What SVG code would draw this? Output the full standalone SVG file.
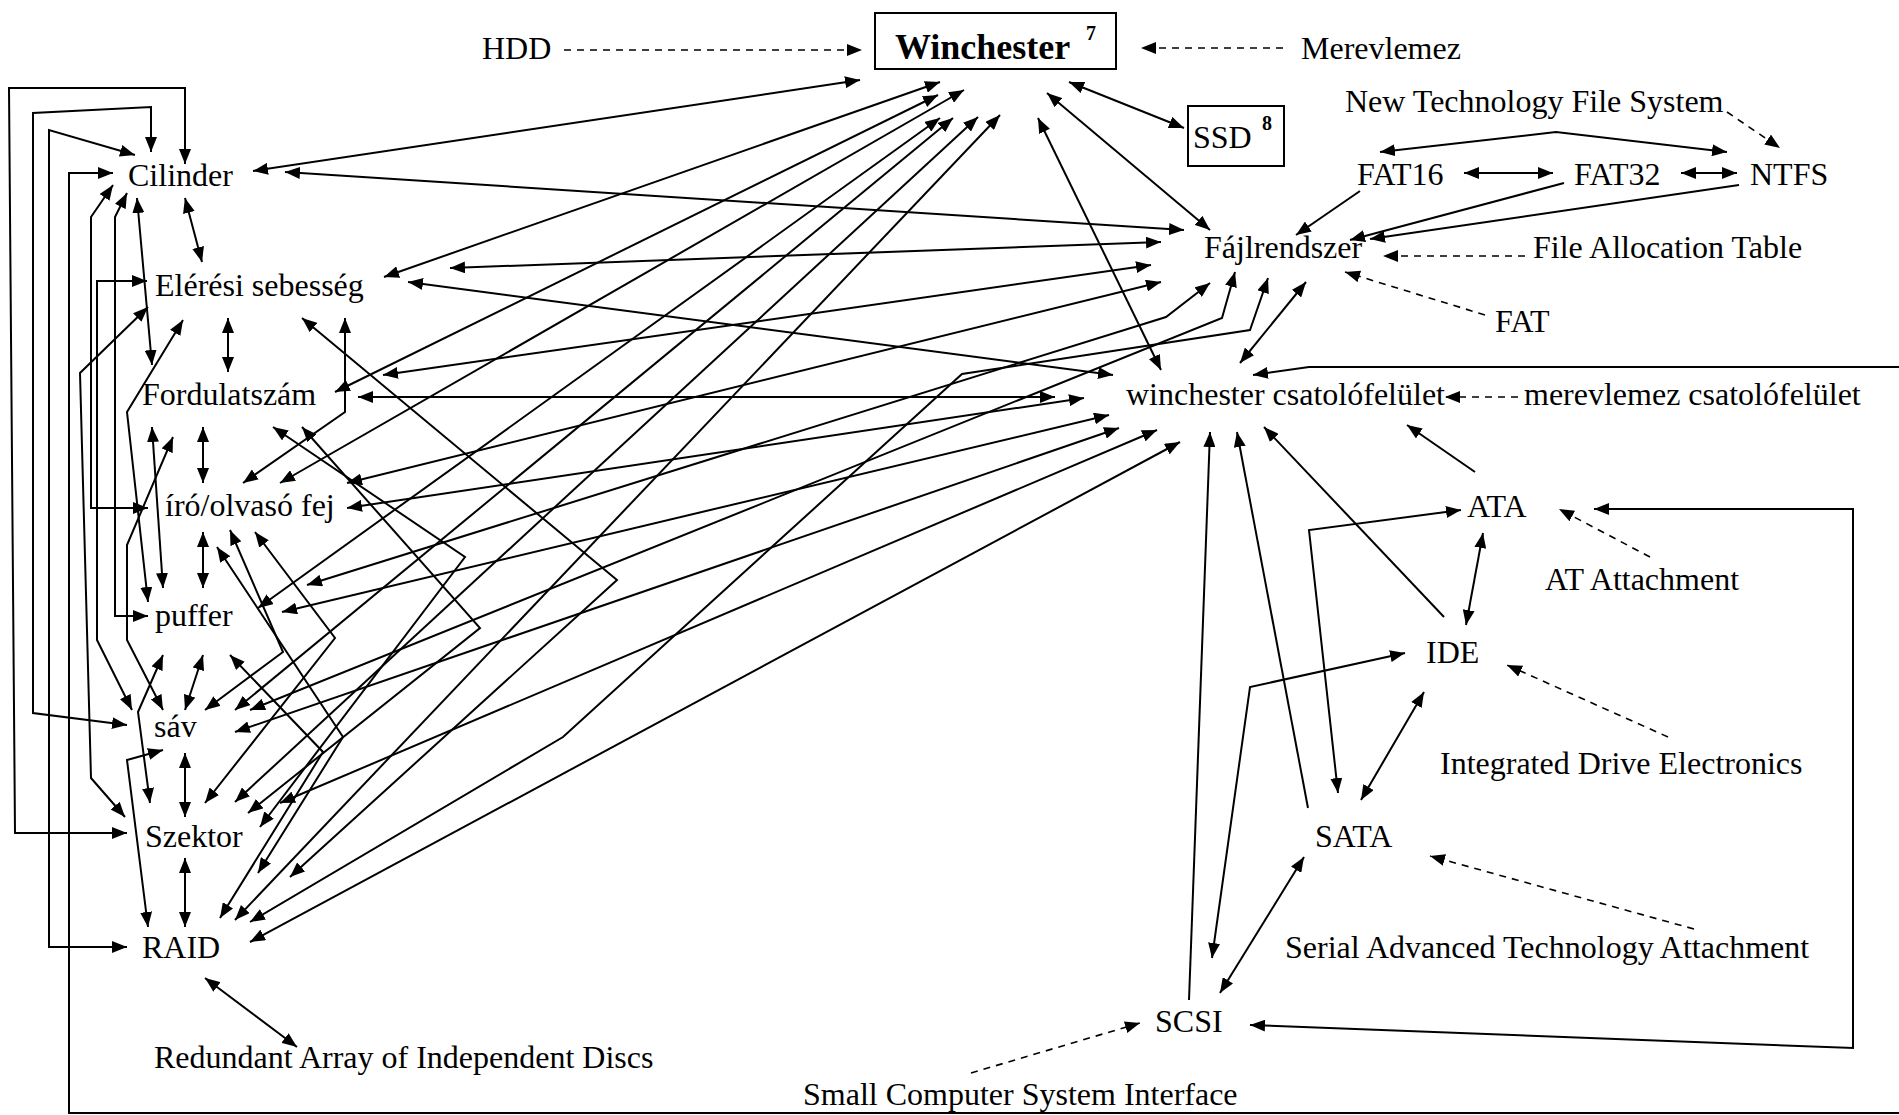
<svg xmlns="http://www.w3.org/2000/svg" width="1899" height="1115" viewBox="0 0 1899 1115">
<style>
text{font-family:"Liberation Serif","Times New Roman",serif;font-size:32px;fill:#000}
.b{font-weight:bold}
.sup{font-size:20px;font-weight:bold}
.c path{fill:none;stroke:#000;stroke-width:2}
.c .bi{marker-start:url(#ah);marker-end:url(#ah)}
.c .u{marker-end:url(#ah)}
.c .d{stroke-width:1.6;stroke-dasharray:7 6;marker-end:url(#ah)}
.box{fill:#fff;stroke:#000;stroke-width:2}
</style>
<defs>
<marker id="ah" markerUnits="userSpaceOnUse" markerWidth="16" markerHeight="12" refX="15" refY="6" orient="auto-start-reverse"><path d="M0,0 L15,6 L0,12 z" fill="#000"/></marker>
</defs>
<rect width="1899" height="1115" fill="#fff"/>
<g class="c" id="connectors">
<path class="bi" d="M127,833 L15,833 L9,88 L185,88 L185,164"/>
<path class="bi" d="M127,725 L33,713 L33,113 L151,107 L151,152"/>
<path class="bi" d="M127,947 L49,947 L49,130 L135,155"/>
<path class="bi" d="M1253,375 L1309,367 L1902,367 L1902,1113 L69,1113 L69,173 L113,173"/>
<path class="bi" d="M113,185 L91,217 L91,508 L148,508"/>
<path class="bi" d="M147,281 L97,281 L97,640 L132,710"/>
<path class="bi" d="M127,193 L115,217 L115,616 L148,616"/>
<path class="bi" d="M148,307 L80,373 L91,778 L125,817"/>
<path class="bi" d="M137,198 L152,365"/>
<path class="bi" d="M185,198 L202,262"/>
<path class="bi" d="M183,320 L127,412 L148,602"/>
<path class="bi" d="M228,318 L228,372"/>
<path class="bi" d="M152,427 L163,588"/>
<path class="bi" d="M173,437 L127,545 L127,640 L163,710"/>
<path class="bi" d="M203,427 L203,483"/>
<path class="bi" d="M345,318 L345,412 L243,483"/>
<path class="bi" d="M163,655 L138,712 L150,803"/>
<path class="bi" d="M163,750 L127,760 L148,927"/>
<path class="bi" d="M203,655 L185,710"/>
<path class="bi" d="M185,753 L185,817"/>
<path class="bi" d="M185,858 L185,927"/>
<path class="bi" d="M203,532 L203,588"/>
<path class="bi" d="M205,978 L297,1047"/>
<path class="bi" d="M253,171 L860,80"/>
<path class="bi" d="M285,172 L1184,230"/>
<path class="bi" d="M384,277 L940,82"/>
<path class="bi" d="M450,268 L1161,242"/>
<path class="bi" d="M408,282 L1113,375"/>
<path class="bi" d="M335,392 L938,95"/>
<path class="bi" d="M383,375 L1151,265"/>
<path class="bi" d="M358,397 L1055,397"/>
<path class="bi" d="M280,483 L964,90"/>
<path class="bi" d="M347,483 L1161,282"/>
<path class="bi" d="M347,508 L1084,398"/>
<path class="bi" d="M258,608 L940,118"/>
<path class="bi" d="M307,585 L1166,317 L1210,283"/>
<path class="bi" d="M282,612 L1109,415"/>
<path class="bi" d="M235,710 L953,118"/>
<path class="bi" d="M250,710 L1222,318 L1235,272"/>
<path class="bi" d="M235,732 L1119,428"/>
<path class="bi" d="M235,802 L978,117"/>
<path class="bi" d="M280,803 L1157,430"/>
<path class="bi" d="M235,920 L1000,115"/>
<path class="bi" d="M250,922 L563,737 L962,374 L1250,330 L1268,278"/>
<path class="bi" d="M250,942 L1180,442"/>
<path class="bi" d="M302,318 L617,580 L290,877"/>
<path class="bi" d="M273,427 L465,557 L260,827"/>
<path class="bi" d="M302,427 L480,628 L248,813"/>
<path class="bi" d="M230,530 L283,652 L205,710"/>
<path class="bi" d="M255,532 L335,638 L205,803"/>
<path class="bi" d="M217,547 L343,737 L258,873"/>
<path class="bi" d="M230,655 L323,752 L220,918"/>
<path class="bi" d="M1069,82 L1184,128"/>
<path class="bi" d="M1047,93 L1210,230"/>
<path class="bi" d="M1038,118 L1161,370"/>
<path class="bi" d="M1306,282 L1240,363"/>
<path class="bi" d="M1380,152 L1556,132 L1727,152"/>
<path class="bi" d="M1464,173 L1553,173"/>
<path class="bi" d="M1681,173 L1737,173"/>
<path class="u" d="M1360,191 L1296,235"/>
<path class="u" d="M1564,183 L1350,240"/>
<path class="u" d="M1739,185 L1370,239"/>
<path class="u" d="M1475,472 L1407,425"/>
<path class="bi" d="M1483,533 L1466,625"/>
<path class="u" d="M1444,617 L1264,427"/>
<path class="bi" d="M1338,793 L1309,530 L1461,510"/>
<path class="bi" d="M1212,958 L1250,687 L1405,653"/>
<path class="u" d="M1308,808 L1237,432"/>
<path class="u" d="M1189,1000 L1210,432"/>
<path class="bi" d="M1424,692 L1361,800"/>
<path class="bi" d="M1304,857 L1220,993"/>
<path class="bi" d="M1250,1025 L1853,1048 L1853,509 L1594,509"/>
<path class="d" d="M564,50 L862,50"/>
<path class="d" d="M1283,48 L1141,48"/>
<path class="d" d="M1727,112 L1780,148"/>
<path class="d" d="M1525,256 L1383,256"/>
<path class="d" d="M1485,315 L1345,272"/>
<path class="d" d="M1518,397 L1445,397"/>
<path class="d" d="M1650,557 L1559,509"/>
<path class="d" d="M1668,737 L1507,665"/>
<path class="d" d="M1694,929 L1430,856"/>
<path class="d" d="M971,1073 L1140,1023"/>
</g>
<g id="n-hdd"><text x="482" y="59">HDD</text></g>
<g id="n-winchester"><rect class="box" x="875" y="13" width="241" height="56"/><text class="b" x="895" y="59" style="font-size:36px">Winchester</text><text class="sup" x="1086" y="40">7</text></g>
<g id="n-merevlemez"><text x="1301" y="59">Merevlemez</text></g>
<g id="n-ssd"><rect class="box" x="1188" y="106" width="96" height="60"/><text x="1193" y="148">SSD</text><text class="sup" x="1262" y="130">8</text></g>
<g id="n-ntfs-full"><text x="1345" y="112">New Technology File System</text></g>
<g id="n-fat16"><text x="1357" y="185">FAT16</text></g>
<g id="n-fat32"><text x="1574" y="185">FAT32</text></g>
<g id="n-ntfs"><text x="1750" y="185">NTFS</text></g>
<g id="n-fajlrendszer"><text x="1204" y="258">Fájlrendszer</text></g>
<g id="n-fat-full"><text x="1533" y="258">File Allocation Table</text></g>
<g id="n-fat"><text x="1495" y="332">FAT</text></g>
<g id="n-wcs"><text x="1126" y="405">winchester csatolófelület</text></g>
<g id="n-mcs"><text x="1524" y="405">merevlemez csatolófelület</text></g>
<g id="n-ata"><text x="1467" y="517">ATA</text></g>
<g id="n-ata-full"><text x="1545" y="590">AT Attachment</text></g>
<g id="n-ide"><text x="1426" y="663">IDE</text></g>
<g id="n-ide-full"><text x="1440" y="774">Integrated Drive Electronics</text></g>
<g id="n-sata"><text x="1315" y="847">SATA</text></g>
<g id="n-sata-full"><text x="1285" y="958">Serial Advanced Technology Attachment</text></g>
<g id="n-scsi"><text x="1155" y="1032">SCSI</text></g>
<g id="n-scsi-full"><text x="803" y="1105">Small Computer System Interface</text></g>
<g id="n-cilinder"><text x="128" y="186">Cilinder</text></g>
<g id="n-eleresi"><text x="155" y="296">Elérési sebesség</text></g>
<g id="n-fordulatszam"><text x="142" y="405">Fordulatszám</text></g>
<g id="n-iro"><text x="165" y="516">író/olvasó fej</text></g>
<g id="n-puffer"><text x="155" y="626">puffer</text></g>
<g id="n-sav"><text x="154" y="737">sáv</text></g>
<g id="n-szektor"><text x="145" y="847">Szektor</text></g>
<g id="n-raid"><text x="142" y="958">RAID</text></g>
<g id="n-raid-full"><text x="154" y="1068">Redundant Array of Independent Discs</text></g>
</svg>
